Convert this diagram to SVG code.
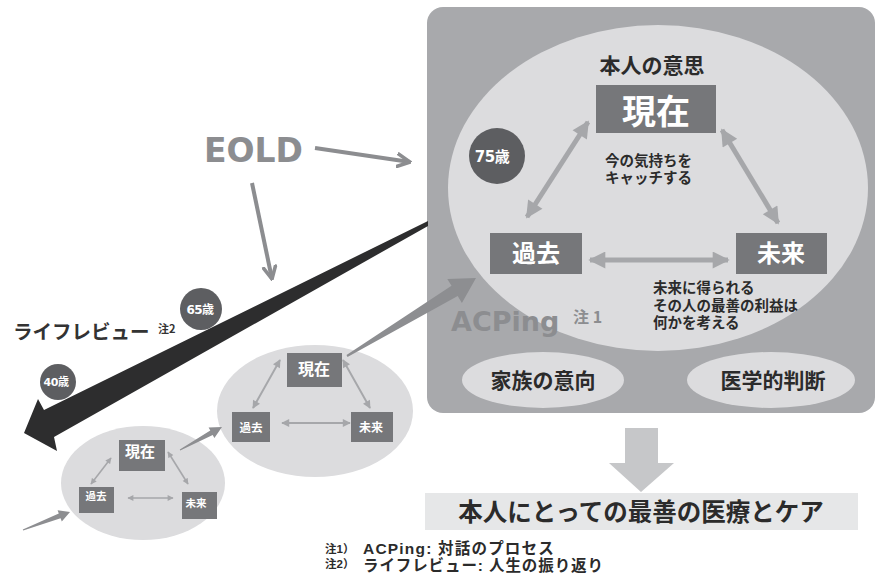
<svg xmlns="http://www.w3.org/2000/svg" width="876" height="577" viewBox="0 0 876 577">
<defs>
<style>
.jp{font-family:"Noto Sans CJK JP","Noto Sans",sans-serif;font-weight:700}
.jpl{font-family:"Liberation Sans","Noto Sans CJK JP",sans-serif;font-weight:700}
.lat{font-family:"DejaVu Sans","Noto Sans CJK JP",sans-serif;font-weight:700}
.box{fill:#76777a}
.ell{fill:#dcdcde}
.w{fill:#ffffff}
.dk{fill:#2b2b2b}
.ga{stroke:#a6a7aa;fill:none}
.eold{stroke:#8c8d90;stroke-width:4;fill:none}
.circ{fill:#5d5e61}
.taper{fill:#8d8e91}
</style>
<marker id="hL" viewBox="0 0 10 10" refX="9" refY="5" markerUnits="userSpaceOnUse" markerWidth="20" markerHeight="17" orient="auto-start-reverse"><path d="M0,0 L10,5 L0,10 Z" fill="#a6a7aa"/></marker>
<marker id="hM" viewBox="0 0 10 10" refX="9" refY="5" markerUnits="userSpaceOnUse" markerWidth="9" markerHeight="8" orient="auto-start-reverse"><path d="M0,0 L10,5 L0,10 Z" fill="#a6a7aa"/></marker>
<marker id="hS" viewBox="0 0 10 10" refX="9" refY="5" markerUnits="userSpaceOnUse" markerWidth="7" markerHeight="6" orient="auto-start-reverse"><path d="M0,0 L10,5 L0,10 Z" fill="#a6a7aa"/></marker>
<marker id="chev" viewBox="0 0 10 10" refX="9" refY="5" markerUnits="userSpaceOnUse" markerWidth="15" markerHeight="16" orient="auto"><path d="M0,0.5 L9,5 L0,9.5" fill="none" stroke="#8c8d90" stroke-width="2.4"/></marker>
</defs>

<g id="panel">
<rect x="427" y="7" width="448" height="406" rx="16" fill="#a8a9ac"/>
</g>

<g id="will">
<ellipse class="ell" cx="658" cy="188" rx="210" ry="163"/>
<text class="jp" x="652" y="73" font-size="21" text-anchor="middle" fill="#2b2b2b">本人の意思</text>
</g>

<g id="big-present">
<rect class="box" x="596" y="85" width="120" height="48"/>
<text class="jp w" x="656" y="124" font-size="34" text-anchor="middle">現在</text>
</g>
<g id="big-past">
<rect class="box" x="490" y="233" width="92" height="41"/>
<text class="jp w" x="536" y="262" font-size="24" text-anchor="middle">過去</text>
</g>
<g id="big-future">
<rect class="box" x="736" y="233" width="91" height="41"/>
<text class="jp w" x="781" y="262" font-size="24" text-anchor="middle">未来</text>
</g>

<g id="age75">
<circle class="circ" cx="497" cy="156" r="28"/>
<text class="lat w" x="492" y="162" font-size="15" text-anchor="middle" letter-spacing="-0.5">75歳</text>
</g>

<g id="note-present">
<text class="jpl dk" x="605" y="166" font-size="14.5">今の気持ちを</text>
<text class="jpl dk" x="605" y="183" font-size="14.5">キャッチする</text>
</g>
<g id="note-future">
<text class="jpl dk" x="653" y="293" font-size="14.5">未来に得られる</text>
<text class="jpl dk" x="653" y="311" font-size="14.5">その人の最善の利益は</text>
<text class="jpl dk" x="653" y="328" font-size="14.5">何かを考える</text>
</g>

<g id="acping-label">
<text class="lat" x="451" y="331" font-size="27" fill="#8c8d90">ACPing</text>
<text class="jp" x="573" y="323" font-size="16" fill="#8c8d90">注 1</text>
</g>

<g id="family">
<ellipse class="ell" cx="543" cy="380" rx="81" ry="28"/>
<text class="jp dk" x="543" y="388" font-size="21" text-anchor="middle">家族の意向</text>
</g>
<g id="medical">
<ellipse class="ell" cx="771" cy="380" rx="84" ry="28"/>
<text class="jp dk" x="773" y="388" font-size="21" text-anchor="middle">医学的判断</text>
</g>

<g id="mid-cycle">
<ellipse class="ell" cx="315" cy="411" rx="98" ry="66"/>
</g>
<g id="mid-present">
<rect class="box" x="287" y="353" width="55" height="34"/>
<text class="jp w" x="314" y="375" font-size="16" text-anchor="middle">現在</text>
</g>
<g id="mid-past">
<rect class="box" x="232" y="412" width="38" height="30"/>
<text class="jp w" x="251" y="432" font-size="11.5" text-anchor="middle">過去</text>
</g>
<g id="mid-future">
<rect class="box" x="351" y="412" width="42" height="30"/>
<text class="jp w" x="371" y="432" font-size="12" text-anchor="middle">未来</text>
</g>

<g id="small-cycle">
<ellipse class="ell" cx="143" cy="483" rx="82" ry="57"/>
</g>
<g id="small-present">
<rect class="box" x="119" y="440" width="46" height="31"/>
<text class="jp w" x="140" y="457" font-size="15" text-anchor="middle">現在</text>
</g>
<g id="small-past">
<rect class="box" x="79" y="487" width="35" height="26"/>
<text class="jp w" x="96" y="500" font-size="10.5" text-anchor="middle">過去</text>
</g>
<g id="small-future">
<rect class="box" x="182" y="492" width="35" height="27"/>
<text class="jp w" x="196" y="507" font-size="10.5" text-anchor="middle">未来</text>
</g>

<g id="eold">
<text class="lat" x="204" y="162" font-size="33" fill="#8c8d90">EOLD</text>
</g>

<g id="lifereview">
<text class="jp" x="13" y="339" font-size="19.5" fill="#333333">ライフレビュー</text>
<text class="jp" x="158" y="333" font-size="11" fill="#333333">注2</text>
</g>

<g id="connectors">
<line class="ga" x1="588" y1="122" x2="527" y2="217" stroke-width="5" marker-start="url(#hL)" marker-end="url(#hL)"/>
<line class="ga" x1="722" y1="130" x2="778" y2="223" stroke-width="5" marker-start="url(#hL)" marker-end="url(#hL)"/>
<line class="ga" x1="590" y1="260" x2="728" y2="260" stroke-width="5" marker-start="url(#hL)" marker-end="url(#hL)"/>
<line class="ga" x1="280" y1="360" x2="253" y2="408" stroke-width="2" marker-start="url(#hM)" marker-end="url(#hM)"/>
<line class="ga" x1="343" y1="360" x2="370" y2="408" stroke-width="2" marker-start="url(#hM)" marker-end="url(#hM)"/>
<line class="ga" x1="282" y1="423" x2="350" y2="423" stroke-width="2" marker-start="url(#hM)" marker-end="url(#hM)"/>
<line class="ga" x1="111" y1="458" x2="91" y2="484" stroke-width="1.6" marker-start="url(#hS)" marker-end="url(#hS)"/>
<line class="ga" x1="168" y1="452" x2="188" y2="484" stroke-width="1.6" marker-start="url(#hS)" marker-end="url(#hS)"/>
<line class="ga" x1="128" y1="498" x2="173" y2="498" stroke-width="1.6" marker-start="url(#hS)" marker-end="url(#hS)"/>
<line class="eold" x1="315" y1="148" x2="410" y2="162" marker-end="url(#chev)"/>
<line class="eold" x1="252" y1="183" x2="272" y2="279" marker-end="url(#chev)"/>
<polygon fill="#2d2d2e" points="428,221 428,226 54,437 57,451 24,433 38,399 44,410"/>
<polygon class="taper" points="346.5,355.1 451.5,285.8 447.3,278.9 476,278 461.9,302.9 457.7,296 347.5,356.9"/>
<polygon class="taper" points="179.8,449.6 210.3,430.6 208.6,427.5 222,427 214.4,438.1 212.7,435 180.2,450.4"/>
<polygon class="taper" points="22.8,529.5 58.8,513.6 57.6,510.3 70,512 61.8,521.5 60.6,518.2 23.2,530.5"/>
<polygon fill="#c6c7c9" points="625,428 658,428 658,463 674,463 641,492 609,463 625,463"/>
</g>

<g id="age65">
<circle class="circ" cx="201" cy="309" r="21"/>
<text class="lat w" x="200" y="314" font-size="12" text-anchor="middle" letter-spacing="-0.5">65歳</text>
</g>
<g id="age40">
<circle class="circ" cx="58" cy="382" r="18"/>
<text class="lat w" x="56" y="386" font-size="11" text-anchor="middle" letter-spacing="-0.5">40歳</text>
</g>

<g id="result">
<rect x="425" y="493" width="433" height="37" fill="#e6e7e8"/>
<text class="jp" x="641" y="521" font-size="24.5" text-anchor="middle" fill="#2b2b2b">本人にとっての最善の医療とケア</text>
</g>

<g id="footnotes">
<text class="jpl dk" x="325" y="553" font-size="11.5">注1）</text>
<text class="jpl dk" x="363" y="554" font-size="15.5" letter-spacing="1.2">ACPing: 対話のプロセス</text>
<text class="jpl dk" x="325" y="568" font-size="11.5">注2）</text>
<text class="jpl dk" x="363" y="571" font-size="15.5" letter-spacing="0.9">ライフレビュー: 人生の振り返り</text>
</g>
</svg>
